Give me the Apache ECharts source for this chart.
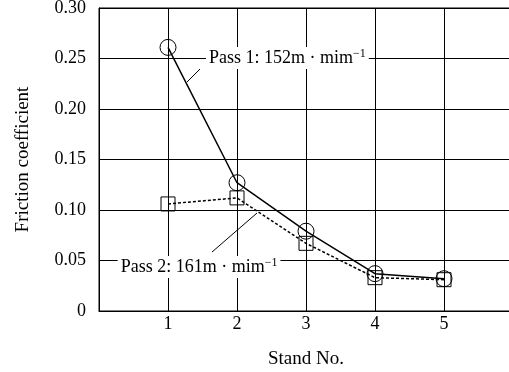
<!DOCTYPE html>
<html><head><meta charset="utf-8">
<script src="https://cdn.jsdelivr.net/npm/echarts@6/dist/echarts.min.js"></script>
<style>html,body{margin:0;padding:0;background:#fff}#c{width:509px;height:372px}</style>
</head><body><div id="c"></div>
<script>
var stands = [1, 2, 3, 4, 5];
var pass1 = [0.261, 0.127, 0.079, 0.037, 0.032];
var pass2 = [0.106, 0.112, 0.067, 0.033, 0.031];
var yTicks = [0, 0.05, 0.10, 0.15, 0.20, 0.25, 0.30];
var pass1Label = 'Pass 1: 152m · mim';
var pass2Label = 'Pass 2: 161m · mim';

var font = 'Liberation Serif';
var chart = echarts.init(document.getElementById('c'));
function pts(v){ return stands.map(function(s,i){ return [s, v[i]]; }); }
chart.setOption({
  animation: false,
  grid: {left: 99, right: -4, top: 8, bottom: 61, show: true, borderColor: '#000', borderWidth: 1,
         outerBoundsMode: 'none', containLabel: false},
  xAxis: {type: 'value', min: 0, max: 6, interval: 1,
    name: 'Stand No.', nameLocation: 'middle', nameGap: 39,
    nameTextStyle: {fontFamily: font, fontSize: 19, color: '#000'},
    axisLine: {lineStyle: {color: '#000'}}, axisTick: {show: false},
    axisLabel: {fontFamily: font, fontSize: 18, color: '#000', margin: 4,
      formatter: function(v){ return (v>=1 && v<=5) ? String(v) : ''; }},
    splitLine: {show: true, lineStyle: {color: '#000', width: 1}}},
  yAxis: {type: 'value', min: 0, max: 0.30, interval: 0.05,
    name: 'Friction coefficient', nameLocation: 'middle', nameGap: 66,
    nameTextStyle: {fontFamily: font, fontSize: 19, color: '#000'},
    axisLine: {show: true, lineStyle: {color: '#000'}}, axisTick: {show: false},
    axisLabel: {fontFamily: font, fontSize: 18, color: '#000', margin: 13,
      formatter: function(v){ return v === 0 ? '0' : v.toFixed(2); }},
    splitLine: {show: true, lineStyle: {color: '#000', width: 1}}},
  series: [
    {type: 'line', data: pts(pass2), symbol: 'rect', symbolSize: 14,
     lineStyle: {color: '#000', width: 1.5, type: [3, 2]},
     itemStyle: {color: 'rgba(0,0,0,0)', borderColor: '#000', borderWidth: 1}, z: 3},
    {type: 'line', data: pts(pass1), symbol: 'circle', symbolSize: 16,
     lineStyle: {color: '#000', width: 1.5},
     itemStyle: {color: 'rgba(0,0,0,0)', borderColor: '#000', borderWidth: 1}, z: 4}
  ]
});

function px(x, y){ return chart.convertToPixel({gridIndex: 0}, [x, y]); }
function label(txt, pos){
  return {type: 'text', x: pos[0], y: pos[1], z: 10,
    style: {text: '{a|' + txt + '}{s|−1}', fill: '#000', backgroundColor: '#fff',
      padding: [1, 3, 1, 3], verticalAlign: 'middle',
      rich: {a: {fontFamily: font, fontSize: 18, fill: '#000', backgroundColor: '#fff'},
             s: {fontFamily: font, fontSize: 12, fill: '#000', verticalAlign: 'top', padding: [0,0,8,0], backgroundColor: '#fff'}}}};
}
function leader(a, b){
  var p = px(a[0], a[1]), q = px(b[0], b[1]);
  return {type: 'line', z: 9, shape: {x1: p[0], y1: p[1], x2: q[0], y2: q[1]}, style: {stroke: '#000', lineWidth: 1}};
}
chart.setOption({graphic: [
  leader([1.275, 0.2267], [1.464, 0.2396]),
  leader([1.638, 0.0584], [2.29, 0.097]),
  label(pass1Label, px(1.55, 0.2506)),
  label(pass2Label, px(0.27, 0.0435))
]});
</script></body></html>
